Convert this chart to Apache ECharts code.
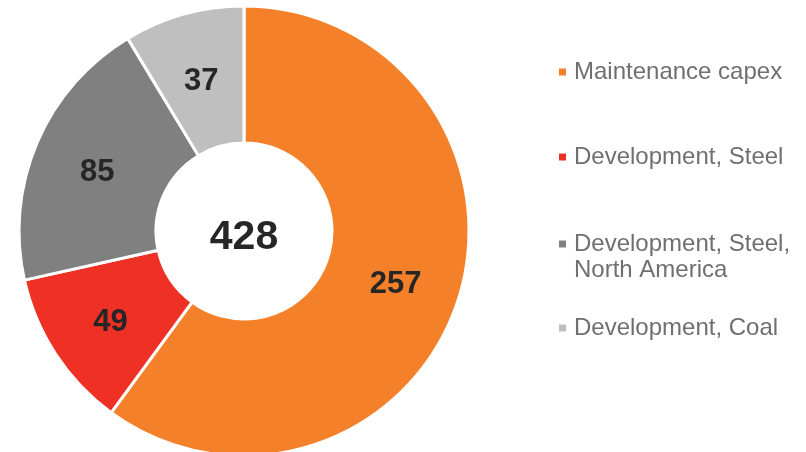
<!DOCTYPE html>
<html>
<head>
<meta charset="utf-8">
<script src="https://cdn.jsdelivr.net/npm/echarts@6/dist/echarts.min.js"></script>
<style>
  html, body { margin: 0; padding: 0; background: #fff; }
  #chart { width: 806px; height: 452px; }
</style>
</head>
<body>
<div id="chart"></div>
<script>
// Capex breakdown
const categories = ['Maintenance capex', 'Development, Steel', 'Development, Steel,\nNorth America', 'Development, Coal'];
const values = [257, 49, 85, 37];
const colors = ['#F4812A', '#EE3124', '#808080', '#BFBFBF'];

const total = values.reduce((a, b) => a + b, 0);
const FONT = '"Liberation Sans", Arial, sans-serif';
const LINE = 26;

// Vertical centre of each legend marker
const legendRows = [72, 157, 244, 328];

const legends = categories.map((name, i) => {
  const multi = name.indexOf('\n') >= 0;
  const lines = name.split('\n').length;
  // A blank leading line keeps the marker beside the first line of a wrapped name
  const blockLines = multi ? lines * 2 - 1 : 1;
  return {
    data: [name],
    orient: 'vertical',
    left: 559,
    top: legendRows[i] - (blockLines * LINE) / 2,
    itemWidth: 7,
    itemHeight: 7,
    icon: 'rect',
    selectedMode: false,
    padding: 0,
    itemStyle: { borderWidth: 0 },
    formatter: multi ? (n) => '\n'.repeat(lines - 1) + n : '{name}',
    textStyle: {
      color: '#6F6F6F',
      fontSize: 24,
      fontFamily: FONT,
      lineHeight: LINE,
      padding: [0, 0, 0, 3]
    }
  };
});

const chart = echarts.init(document.getElementById('chart'), null, { renderer: 'canvas' });
chart.setOption({
  animation: false,
  backgroundColor: '#ffffff',
  legend: legends,
  series: [{
    type: 'pie',
    center: [244, 231],
    radius: [88, 225],
    startAngle: 90,
    clockwise: true,
    avoidLabelOverlap: false,
    itemStyle: { borderColor: '#ffffff', borderWidth: 3 },
    label: {
      show: true,
      position: 'inside',
      formatter: '{c}',
      color: '#262626',
      fontSize: 31,
      fontWeight: 'bold',
      fontFamily: FONT,
      offset: [0, 4]
    },
    labelLine: { show: false },
    emphasis: { disabled: true },
    data: categories.map((name, i) => ({
      name: name,
      value: values[i],
      itemStyle: { color: colors[i] }
    }))
  }],
  graphic: [{
    type: 'text',
    x: 244,
    y: 238,
    style: {
      text: String(total),
      fill: '#262626',
      font: 'bold 41px ' + FONT,
      textAlign: 'center',
      verticalAlign: 'middle'
    }
  }]
});
</script>
</body>
</html>
